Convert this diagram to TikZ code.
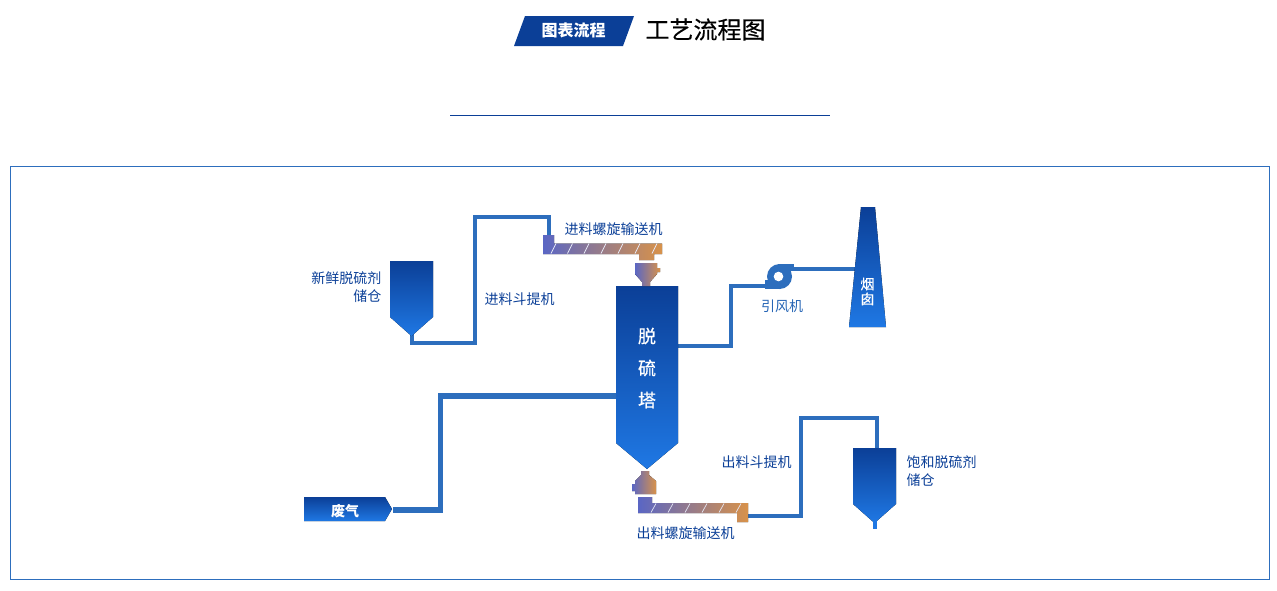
\documentclass[tikz,border=0pt]{standalone}
\usepackage{fontspec}
\setmainfont{Noto Sans CJK SC}
\newfontfamily\titlefont[FakeBold=0.35]{Noto Sans CJK SC}
\usepackage{tikz}
\usetikzlibrary{calc}

\definecolor{deepblue}{HTML}{0B3F97}
\definecolor{brightblue}{HTML}{1F78E4}
\definecolor{pipeblue}{HTML}{2D6EBD}
\definecolor{screwblue}{HTML}{5A66C4}
\definecolor{screworange}{HTML}{D8924A}

\begin{document}
\begin{tikzpicture}[
            x=1pt,
            y=-1pt,
            pipe/.style={draw=pipeblue, line width=4pt, line join=miter},
            bluebody/.style={top color=deepblue, bottom color=brightblue},
            screwbody/.style={left color=screwblue, right color=screworange},
            thread/.style={draw=white!85!screwblue, line width=0.7pt},
            tag/.style={font=\fontsize{14}{14}\selectfont, text=deepblue, inner sep=0pt},
            inlabel/.style={font=\fontsize{14}{14}\titlefont\selectfont, text=white, inner sep=0pt}
        ]
            \useasboundingbox (0,0) rectangle (1277,590);

            % --- Coordinates ---
            \coordinate (freshOut) at (412,333);
            \coordinate (liftA1) at (475,343);
            \coordinate (liftA2) at (475,217);
            \coordinate (screwAIn) at (549,236);
            \coordinate (towerFlue) at (677,346);
            \coordinate (flueA) at (731,346);
            \coordinate (fanIn) at (767,286);
            \coordinate (fanOut) at (793,269);
            \coordinate (stackIn) at (856,269);
            \coordinate (gasOut) at (393,510);
            \coordinate (gasTurn) at (440.5,510);
            \coordinate (towerIn) at (617,396);
            \coordinate (screwBOut) at (747,516);
            \coordinate (liftB1) at (801,516);
            \coordinate (liftB2) at (801,418);
            \coordinate (spentIn) at (877,449);

            % --- 1. Title ---
            \fill[deepblue] (525,16) -- (634,16) -- (623,46) -- (514,46) -- cycle;
            \node[inner sep=0pt, text=white, font=\fontsize{16}{16}\selectfont\bfseries] (badge) at (573.5,30.5) {图表流程};
            \node[inner sep=0pt, font=\fontsize{24}{24}\titlefont\selectfont] (title) at (705.5,29.5) {工艺流程图};
            \draw[deepblue, line width=0.8pt] (450,115.5) -- (830,115.5);

            % --- 2. Frame ---
            \draw[pipeblue, line width=0.8pt] (10.5,166.5) rectangle (1269.5,579.5);

            % --- 3. Pipes ---
            \draw[pipe] (freshOut) |- (liftA1) -- (liftA2) -| (screwAIn);
            \draw[pipe] (towerFlue) -| (flueA) |- (fanIn);
            \draw[pipe] (fanOut) -- (stackIn);
            \draw[pipe, line width=5.5pt] (gasOut) -- (gasTurn) |- (towerIn);
            \draw[pipe] (screwBOut) -- (liftB1) -- (liftB2) -| (spentIn);

            % --- 4. Storage bins ---
            \fill[bluebody] (390,261) -- (433,261) -- (433,317) -- (411.5,336) -- (390,317) -- cycle;
            \fill[bluebody] (853,448) -- (896,448) -- (896,504) -- (874.5,523) -- (853,504) -- cycle;
            \fill[brightblue] (873,520) rectangle (877,529);

            % --- 5. Tower ---
            \fill[bluebody] (616,286) -- (678,286) -- (678,443) -- (647,469) -- (616,443) -- cycle;
            \node[inlabel, font=\fontsize{18}{18}\titlefont\selectfont] (towerA) at (647,336) {脱};
            \node[inlabel, font=\fontsize{18}{18}\titlefont\selectfont] (towerB) at (647,368) {硫};
            \node[inlabel, font=\fontsize{18}{18}\titlefont\selectfont] (towerC) at (647,400) {塔};

            % --- 6. Feed screw and valve ---
            \fill[screwbody] (543,235) -- (554,235) -- (554,243.5) -- (662,243.5) -- (662,254) -- (654,254)
                -- (654,260) -- (639,260) -- (639,254) -- (543,254) -- cycle;
            \foreach \tx in {551,567.5,584,601,618,635,652}
                \draw[thread] (\tx,253.5) -- (\tx+5,243.5);
            \fill[screwbody] (635,263) -- (657,263) -- (657,268) -- (660,268) -- (660,272) -- (657,272)
                -- (657,274) -- (650,282) -- (650,286) -- (642,286) -- (642,282) -- (635,274) -- cycle;

            % --- 7. Discharge valve and screw ---
            \fill[screwbody] (641,471) -- (649,471) -- (649,475) -- (656,481) -- (656,494) -- (635,494)
                -- (635,491) -- (632,491) -- (632,484) -- (635,484) -- (635,481) -- (641,475) -- cycle;
            \fill[screwbody] (638,497) -- (652,497) -- (652,503) -- (748,503) -- (748,522) -- (737,522)
                -- (737,513) -- (638,513) -- cycle;
            \foreach \tx in {651,668,685,702,719,736}
                \draw[thread] (\tx,512.5) -- (\tx+5,503.5);

            % --- 8. Fan and stack ---
            \fill[pipeblue] (779.5,276.5) circle (12.5pt);
            \fill[pipeblue] (778,264) rectangle (794,271);
            \fill[pipeblue] (765,280) rectangle (778,289);
            \fill[white] (778.5,276.5) circle (4.8pt);
            \fill[bluebody] (861,207) -- (875,207) -- (886,327) -- (849,327) -- cycle;
            \node[inlabel] (stackA) at (867.5,284) {烟};
            \node[inlabel] (stackB) at (867.5,299) {囱};

            % --- 9. Waste gas tag ---
            \fill[bluebody] (304,497) -- (385,497) -- (392,509) -- (385,521) -- (304,521) -- cycle;
            \node[inlabel, font=\fontsize{14}{14}\selectfont\bfseries] (gas) at (345,511) {废气};

            % --- 10. Labels ---
            \node[tag, anchor=east] (freshA) at (381.5,278) {新鲜脱硫剂};
            \node[tag, anchor=east] (freshB) at (381.5,296) {储仓};
            \node[tag, anchor=west] (liftAText) at (484.5,299) {进料斗提机};
            \node[tag, anchor=west] (screwAText) at (564.5,229) {进料螺旋输送机};
            \node[tag, text=pipeblue!80!deepblue, anchor=west] (fanText) at (761,306) {引风机};
            \node[tag, anchor=west] (liftBText) at (721.5,462) {出料斗提机};
            \node[tag, anchor=west] (spentA) at (906.5,462) {饱和脱硫剂};
            \node[tag, anchor=west] (spentB) at (906.5,480) {储仓};
            \node[tag, anchor=west] (screwBText) at (636.5,533) {出料螺旋输送机};

        \end{tikzpicture}
\end{document}
